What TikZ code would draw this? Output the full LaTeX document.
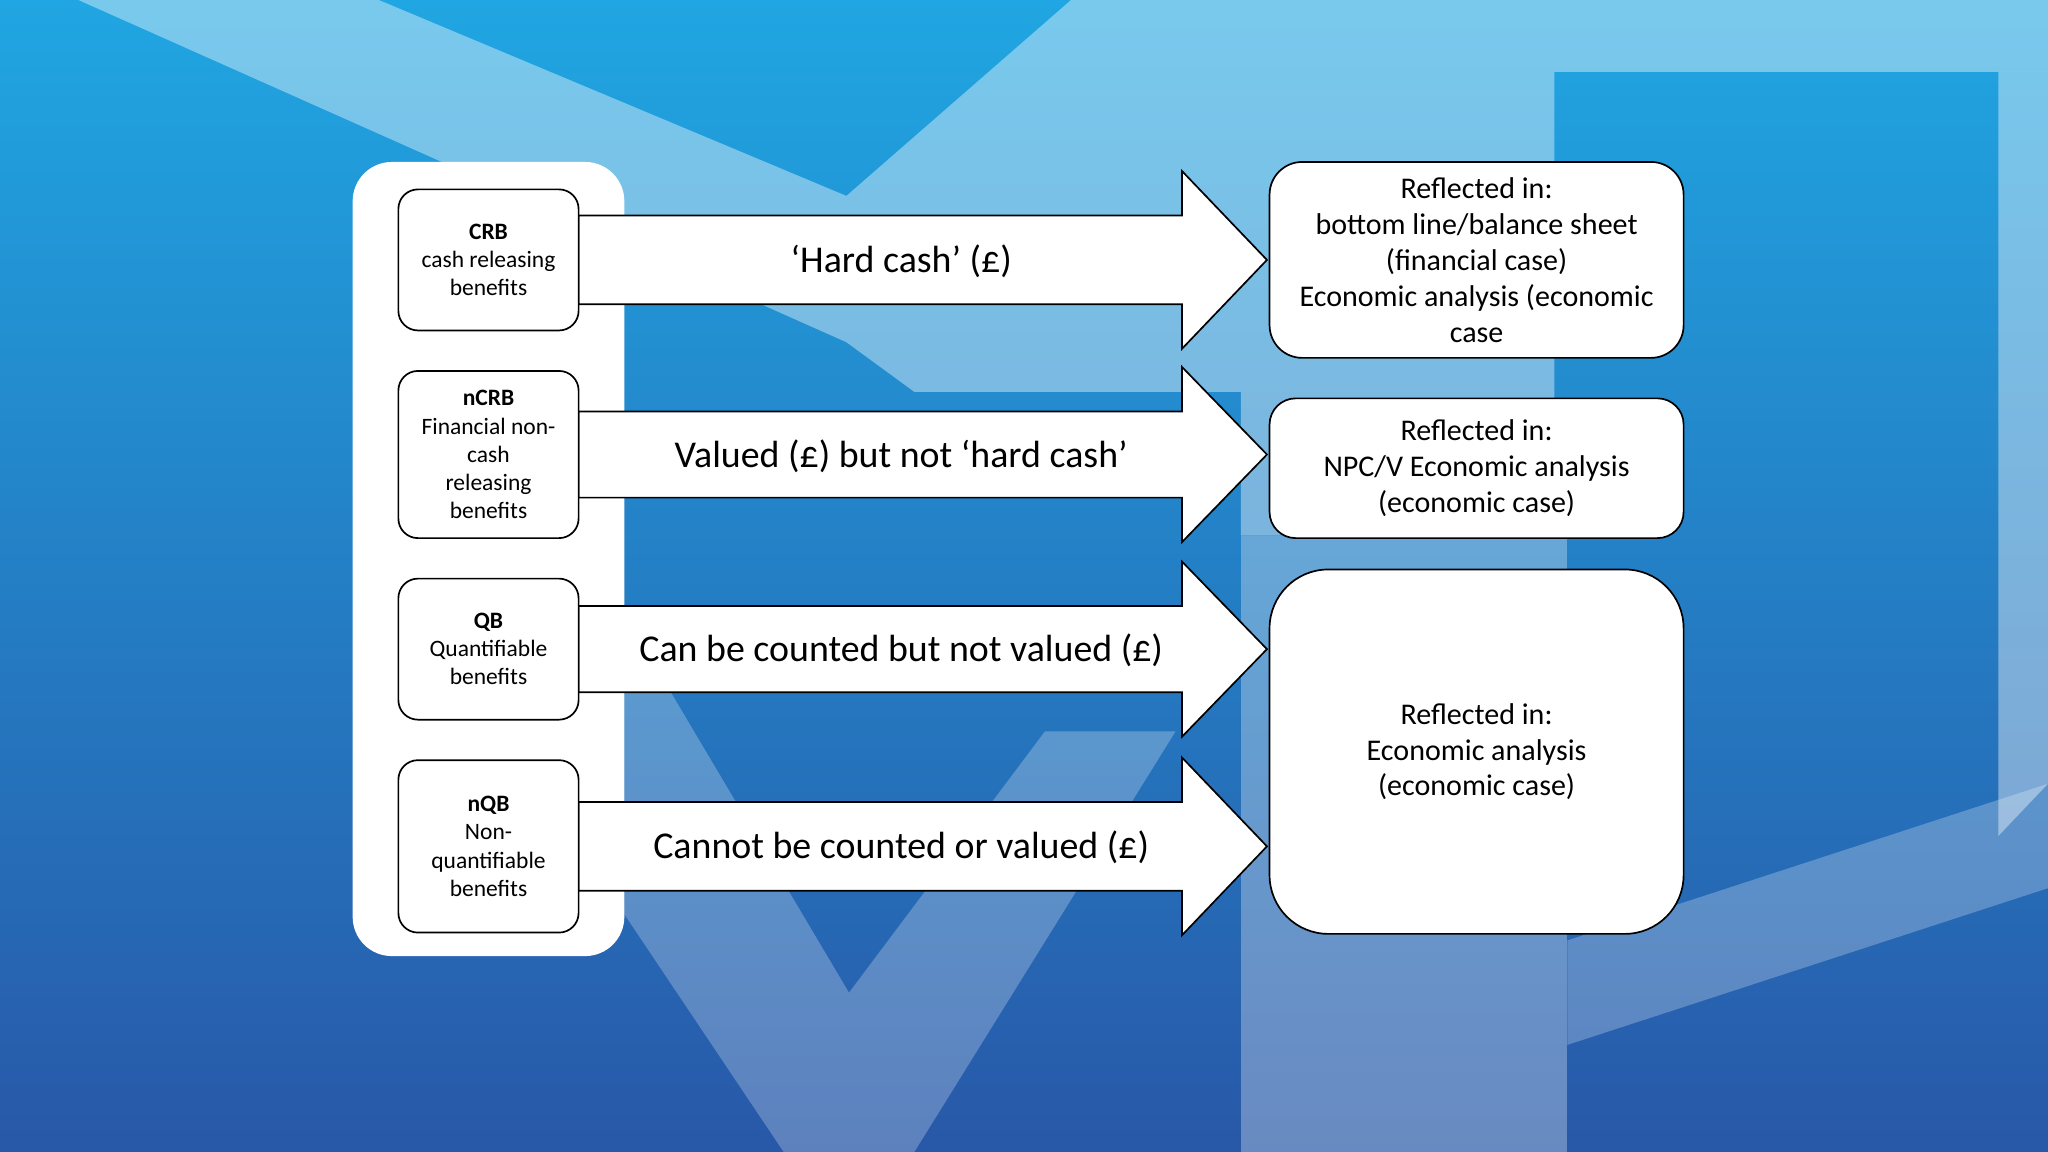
\documentclass[tikz,border=0pt]{standalone}
\usepackage{fontspec}
\setmainfont{Carlito}
\begin{document}
\begin{tikzpicture}[x=1pt,y=-1pt,
 lbox/.style={draw=black,line width=1.3pt,fill=white,rounded corners=15pt,align=center,font=\fontsize{18}{21.5}\selectfont,minimum width=138pt,inner sep=2pt},
 rbox/.style={draw=black,line width=1.3pt,fill=white,align=center,font=\fontsize{23}{27.5}\selectfont,minimum width=317pt},
 arr/.style={draw=black,line width=1.3pt,fill=white},
 alab/.style={font=\fontsize{29}{32}\selectfont}]
\useasboundingbox (0,0) rectangle (1568,882);
\shade[top color={rgb,255:red,32;green,166;blue,226},bottom color={rgb,255:red,40;green,88;blue,168}] (0,0) rectangle (1568,882);
\fill[white,opacity=0.4] (60,0)--(290,0)--(648,150)--(820,0)--(1568,0)--(1568,55)--(1190,55)--(1190,410)--(950,410)--(950,300)--(700,300)--(648,262)--cycle;
\fill[white,opacity=0.4] (1530,55)--(1568,55)--(1568,600)--(1530,640)--cycle;
\fill[white,opacity=0.3] (950,410)--(1200,410)--(1200,882)--(950,882)--cycle;
\fill[white,opacity=0.25] (478,470)--(650,760)--(800,560)--(900,560)--(700,882)--(600,882)--(478,700)--cycle;
\fill[white,opacity=0.25] (1200,720)--(1568,600)--(1568,680)--(1200,800)--cycle;
\fill[white,rounded corners=30pt] (270,124) rectangle (478,732);
% arrows
\foreach \n/\yc/\h in {a/199/34,b/348/33,c/497/33,d/648/34}{
 \filldraw[arr] (443,\yc-\h)--(905,\yc-\h)--(905,\yc-\h-34)--(970,\yc)--(905,\yc+\h+34)--(905,\yc+\h)--(443,\yc+\h)--cycle;
}
\node[alab] (ta) at (690,200) {‘Hard cash’ (£)};
\node[alab] (tb) at (690,349) {Valued (£) but not ‘hard cash’};
\node[alab] (tc) at (690,498) {Can be counted but not valued (£)};
\node[alab] (td) at (690,649) {Cannot be counted or valued (£)};
% left boxes
\node[lbox,minimum height=108pt] (crb) at (374,199) {\textbf{CRB}\\cash releasing\\benefits};
\node[lbox,minimum height=128pt] (ncrb) at (374,348) {\textbf{nCRB}\\Financial non-\\cash\\releasing\\benefits};
\node[lbox,minimum height=108pt] (qb) at (374,497) {\textbf{QB}\\Quantifiable\\benefits};
\node[lbox,minimum height=132pt] (nqb) at (374,648) {\textbf{nQB}\\Non-\\quantifiable\\benefits};
% right boxes
\node[rbox,rounded corners=25pt,minimum height=150pt] (r1) at (1130.5,199) {Reflected in:\\bottom line/balance sheet\\(financial case)\\Economic analysis (economic\\case};
\node[rbox,rounded corners=20pt,minimum height=107pt] (r2) at (1130.5,358.5) {Reflected in:\\NPC/V Economic analysis\\(economic case)};
\node[rbox,rounded corners=45pt,minimum height=279pt] (r3) at (1130.5,575.5) {Reflected in:\\Economic analysis\\(economic case)};
\end{tikzpicture}
\end{document}
